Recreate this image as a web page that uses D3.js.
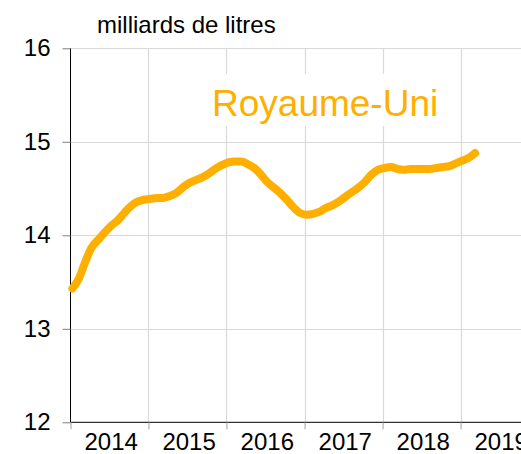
<!DOCTYPE html>
<meta charset="utf-8">
<html>
<head>
<style>
  body { margin: 0; background: #fff; }
  svg { display: block; overflow: hidden; font-family: "Liberation Sans", Arial, sans-serif; }
</style>
</head>
<body>
<svg id="chart" width="521" height="454"></svg>
</body>
</html>

<script src="https://d3js.org/d3.v7.min.js"></script>
<script>

// rolling volume, monthly, Jan 2014 - Mar 2019
var firstMonth = new Date(2014, 0, 1);
var lastMonth = new Date(2019, 2, 1);
var values = [13.43, 13.54, 13.71, 13.87, 13.95, 14.03, 14.10, 14.16, 14.24, 14.31, 14.36, 14.38,
  14.39, 14.40, 14.40, 14.42, 14.45, 14.51, 14.56, 14.59, 14.62, 14.66, 14.71, 14.75,
  14.78, 14.79, 14.79, 14.76, 14.72, 14.65, 14.57, 14.51, 14.45, 14.38, 14.30, 14.24,
  14.22, 14.23, 14.25, 14.29, 14.32, 14.36, 14.41, 14.46, 14.51, 14.57, 14.65, 14.70,
  14.72, 14.73, 14.71, 14.70, 14.71, 14.71, 14.71, 14.71, 14.72, 14.73, 14.74, 14.77,
  14.80, 14.83, 14.88];
var years = [2014, 2015, 2016, 2017, 2018, 2019];
var yTicks = [12, 13, 14, 15, 16];
var unitLabel = "milliards de litres";
var seriesName = "Royaume-Uni";
var orange = "#ffaf00";

// one point per month, placed a little after the start of the month
var months = d3.timeMonth.range(firstMonth, d3.timeMonth.offset(lastMonth, 1))
  .map(function(d) { return d3.timeDay.offset(d, 9); });
var data = months.map(function(d, i) { return { date: d, value: values[i] }; });

var svg = d3.select("#chart");
var plotLeft = 70.5, plotTop = 48.3, plotBottom = 422.3;

var x = d3.scaleTime()
  .domain([new Date(2014, 0, 1), new Date(2020, 0, 1)])
  .range([plotLeft, plotLeft + 6 * 78]);
var y = d3.scaleLinear()
  .domain([12, 16])
  .range([plotBottom, plotTop]);

// grid
svg.append("g")
  .selectAll("line")
  .data(yTicks.slice(1))
  .enter().append("line")
    .attr("x1", plotLeft).attr("x2", 521)
    .attr("y1", function(d) { return Math.round(y(d)) + 0.5; })
    .attr("y2", function(d) { return Math.round(y(d)) + 0.5; })
    .attr("stroke", "#d9d9d9").attr("stroke-width", 1.2);

svg.append("g")
  .selectAll("line")
  .data(years.slice(1))
  .enter().append("line")
    .attr("x1", function(d) { return Math.round(x(new Date(d, 0, 1))) + 0.5; })
    .attr("x2", function(d) { return Math.round(x(new Date(d, 0, 1))) + 0.5; })
    .attr("y1", plotTop).attr("y2", plotBottom)
    .attr("stroke", "#d9d9d9").attr("stroke-width", 1.2);

// series label with white box behind it
var label = svg.append("g");
var labelBg = label.append("rect").attr("fill", "#fff");
var labelText = label.append("text")
  .attr("x", 212)
  .attr("y", 116)
  .attr("fill", orange)
  .style("font-size", "37px")
  .text(seriesName);
var bb = labelText.node().getBBox();
labelBg.attr("x", bb.x - 4).attr("y", bb.y - 9)
  .attr("width", bb.width + 8).attr("height", bb.height + 11);

// axes
var yAxis = svg.append("g")
  .attr("transform", "translate(" + plotLeft + ",0)")
  .call(d3.axisLeft(y).tickValues(yTicks).tickSize(8).tickPadding(12).tickFormat(d3.format("d")));
yAxis.select(".domain").attr("stroke", "#000").attr("d", "M0," + plotTop + "V" + plotBottom);
yAxis.selectAll(".tick line").attr("stroke", "#808080");
yAxis.selectAll(".tick text")
  .attr("fill", "#000")
  .style("font-size", "24px")
  .style("font-family", "Liberation Sans, Arial, sans-serif");

var xAxis = svg.append("g")
  .attr("transform", "translate(0," + plotBottom + ")")
  .call(d3.axisBottom(x)
    .tickValues(years.map(function(d) { return new Date(d, 0, 1); }))
    .tickSize(7)
    .tickFormat(""));
xAxis.select(".domain").attr("stroke", "#000").attr("d", "M" + plotLeft + ",0H521");
xAxis.selectAll(".tick line").attr("stroke", "#a0a0a0");

svg.append("g")
  .selectAll("text")
  .data(years)
  .enter().append("text")
    .attr("x", function(d) { return x(new Date(d, 6, 1)) + 2; })
    .attr("y", 450)
    .attr("text-anchor", "middle")
    .attr("fill", "#000")
    .style("font-size", "24px")
    .text(function(d) { return d; });

// unit
svg.append("text")
  .attr("x", 97)
  .attr("y", 33)
  .attr("fill", "#000")
  .style("font-size", "24px")
  .text(unitLabel);

// line
var line = d3.line()
  .x(function(d) { return x(d.date); })
  .y(function(d) { return y(d.value); })
  .curve(d3.curveMonotoneX);

svg.append("path")
  .datum(data)
  .attr("fill", "none")
  .attr("stroke", orange)
  .attr("stroke-width", 8)
  .attr("stroke-linecap", "round")
  .attr("stroke-linejoin", "round")
  .attr("d", line);

</script>
